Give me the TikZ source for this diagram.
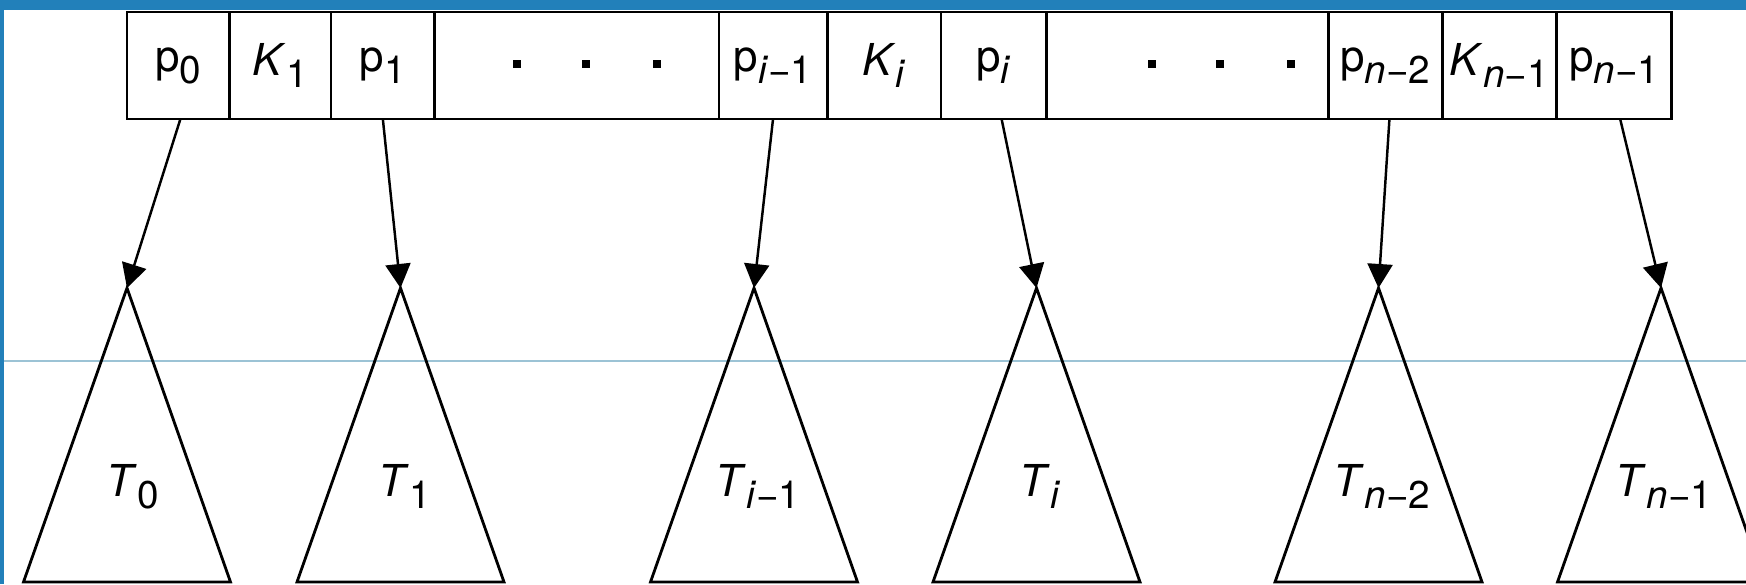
\documentclass[tikz,border=0pt]{standalone}
\usepackage{fontspec}
\setmainfont{TeX Gyre Heros}
\usepackage{tikz}
\usetikzlibrary{positioning,arrows.meta}
\definecolor{frameblue}{HTML}{2280BA}
\definecolor{guideblue}{HTML}{9CC3D5}
\newcommand{\idx}[1]{\raisebox{-0.12cm}{\fontsize{11}{13}\selectfont #1}}

\begin{document}
\begin{tikzpicture}[x=0.01cm,y=-0.01cm,
  cell/.style={rectangle, draw, line width=0.75pt, outer sep=0pt, inner sep=0pt,
    minimum height=1.07cm, font=\fontsize{12.5}{14}\selectfont},
  dotsq/.style={rectangle, fill=black, minimum size=0.08cm, inner sep=0pt},
  tree/.style={draw, line width=0.8pt, line join=miter},
  lab/.style={anchor=base, inner sep=0pt, font=\fontsize{12.5}{14}\selectfont},
  arr/.style={-{Triangle[length=0.24cm,width=0.25cm]}, line width=0.7pt},
  guide/.style={draw=guideblue, line width=0.35pt}
]
\useasboundingbox (0,0) rectangle (1746,584);
\clip (0,0) rectangle (1746,584);
% frame
\fill[frameblue] (0,0) rectangle (1746,10);
\fill[frameblue] (0,0) rectangle (4,584);
\draw[guide] (4,361) -- (1746,361);
% node row
\node[cell,anchor=north west,minimum width=1.025cm] (p0) at (127.1,12) {p\idx{0}};
\node[cell,right=0pt of p0,minimum width=1.014cm] (k1) {\textit{K}\idx{1}};
\node[cell,right=0pt of k1,minimum width=1.034cm] (p1) {p\idx{1}};
\node[cell,right=0pt of p1,minimum width=2.841cm] (dd1) {};
\node[cell,right=0pt of dd1,minimum width=1.083cm] (pim) {p\idx{\textit{i}−1}};
\node[cell,right=0pt of pim,minimum width=1.137cm] (ki) {\textit{K}\idx{\textit{i}}};
\node[cell,right=0pt of ki,minimum width=1.052cm] (pi) {p\idx{\textit{i}}};
\node[cell,right=0pt of pi,minimum width=2.822cm] (dd2) {};
\node[cell,right=0pt of dd2,minimum width=1.136cm] (pnm) {p\idx{\textit{n}−2}};
\node[cell,right=0pt of pnm,minimum width=1.144cm] (knm) {\textit{K}\idx{\textit{n}−1}};
\node[cell,right=0pt of knm,minimum width=1.148cm] (pnl) {p\idx{\textit{n}−1}};
% dots
\node[dotsq] (d1) at (516.6,64) {};
\node[dotsq] (d2) at (585.7,64) {};
\node[dotsq] (d3) at (656.5,64) {};
\node[dotsq] (d4) at (1152,64) {};
\node[dotsq] (d5) at (1220,64) {};
\node[dotsq] (d6) at (1290.6,64) {};
% subtrees
\coordinate (a0) at (127,288);
\coordinate (a1) at (400.5,288);
\coordinate (aim) at (754,288);
\coordinate (ai) at (1036.5,288);
\coordinate (anm) at (1378.5,288);
\coordinate (anl) at (1661,288);
\draw[tree] (a0) -- ++(-103.5,294) -- ++(207,0) -- cycle;
\draw[tree] (a1) -- ++(-103.5,294) -- ++(207,0) -- cycle;
\draw[tree] (aim) -- ++(-103.5,294) -- ++(207,0) -- cycle;
\draw[tree] (ai) -- ++(-103.5,294) -- ++(207,0) -- cycle;
\draw[tree] (anm) -- ++(-103.5,294) -- ++(207,0) -- cycle;
\draw[tree] (anl) -- ++(-103.5,294) -- ++(207,0) -- cycle;
\node[lab] (t0) at (133,496) {\textit{T}\idx{0}};
\node[lab] (t1) at (405,496) {\textit{T}\idx{1}};
\node[lab] (tim) at (758,496) {\textit{T}\idx{\textit{i}−1}};
\node[lab] (ti) at (1040,496) {\textit{T}\idx{\textit{i}}};
\node[lab] (tnm) at (1382,496) {\textit{T}\idx{\textit{n}−2}};
\node[lab] (tnl) at (1664,496) {\textit{T}\idx{\textit{n}−1}};
% pointers
\draw[arr] ([xshift=0.02cm]p0.south) -- (a0);
\draw[arr] (p1.south) -- (a1);
\draw[arr] (pim.south) -- (aim);
\draw[arr] ([xshift=0.08cm]pi.south) -- (ai);
\draw[arr] ([xshift=0.04cm]pnm.south) -- (anm);
\draw[arr] ([xshift=0.06cm]pnl.south) -- (anl);
\end{tikzpicture}
\end{document}
